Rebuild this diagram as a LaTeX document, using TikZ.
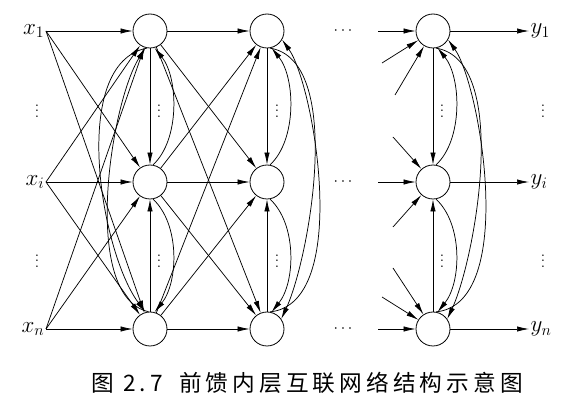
\documentclass[tikz,border=0pt]{standalone}
\usepackage{fontspec}
\usetikzlibrary{arrows.meta}
\newfontfamily\cjkwide[LetterSpace=18]{Noto Sans CJK SC}

\begin{document}
\begin{tikzpicture}[
  x=0.75pt, y=0.75pt,
  neuron/.style={draw, circle, minimum size=25.5pt, inner sep=0pt, line width=0.6pt},
  lbl/.style={font=\fontsize{17}{20}\selectfont, inner sep=1pt},
  dotlbl/.style={font=\fontsize{12}{14}\selectfont, inner sep=0pt},
  arr/.style={-{Latex[length=9pt,width=4pt]}, line width=0.55pt},
  captext/.style={font={\cjkwide\fontsize{17}{20}\selectfont}, anchor=west, inner sep=0pt}
]
\useasboundingbox (0,0) rectangle (576,404);

% neurons of the three layers
\foreach \r/\yy in {1/373, 2/222, 3/75} {
  \node[neuron] (h\r) at (150,\yy) {};
  \node[neuron] (g\r) at (267,\yy) {};
  \node[neuron] (o\r) at (433,\yy) {};
  \node[dotlbl] (hd\r) at (343,\yy) {$\cdots$};
  \coordinate (s\r) at (378,\yy);
}

% inputs and outputs
\node[lbl, anchor=east] (in1) at (46,373) {$x_1$};
\node[lbl, anchor=east] (in2) at (46,222) {$x_i$};
\node[lbl, anchor=east] (in3) at (46,75) {$x_n$};
\node[lbl, anchor=west] (out1) at (529,373) {$y_1$};
\node[lbl, anchor=west] (out2) at (529,222) {$y_i$};
\node[lbl, anchor=west] (out3) at (529,75) {$y_n$};

% vertical dots
\foreach \xx in {37,159,277,442,543} {
  \node[dotlbl] (vda\xx) at (\xx,297) {$\vdots$};
  \node[dotlbl] (vdb\xx) at (\xx,147) {$\vdots$};
}

% full connections
\foreach \a in {1,2,3} {
  \foreach \b in {1,2,3} {
    \draw[arr] (in\a.east) -- (h\b);
    \draw[arr] (h\a) -- (g\b);
  }
  \draw[arr] (s\a) -- (o\a);
  \draw[arr] (o\a) -- (out\a.west);
}

% stubs into the last layer
\coordinate (t1a) at (382,341);
\coordinate (t1b) at (395,309);
\coordinate (t2a) at (393,267);
\coordinate (t2b) at (393,177);
\coordinate (t3a) at (393,136);
\coordinate (t3b) at (382,107);
\foreach \r in {1,2,3} {
  \draw[arr] (t\r a) -- (o\r);
  \draw[arr] (t\r b) -- (o\r);
}

% links inside each layer
\foreach \k in {h,g,o} {
  \draw[arr] (\k1) -- (\k2);
  \draw[arr] (\k3) -- (\k2);
  \draw[arr] (\k2.80) .. controls +(27,25) and +(24,-30) .. (\k1.-75);
  \draw[arr] (\k2.-80) .. controls +(27,-25) and +(24,30) .. (\k3.75);
}
\draw[arr] (h1.-100) .. controls +(-78,-15) and +(-45,60) .. (h3.105);
\draw[arr] (h3.95) .. controls +(-68,15) and +(-35,-55) .. (h1.-105);
\foreach \k in {g,o} {
  \draw[arr] (\k1.-80) .. controls +(75,-12) and +(28,60) .. (\k3.35);
  \draw[arr] (\k3.80) .. controls +(82,8) and +(32,-45) .. (\k1.-30);
}

% caption
\node[captext] (capnum) at (91,21) {图 2.7};
\node[captext] (captitle) at (179,21) {前馈内层互联网络结构示意图};
\end{tikzpicture}
\end{document}
